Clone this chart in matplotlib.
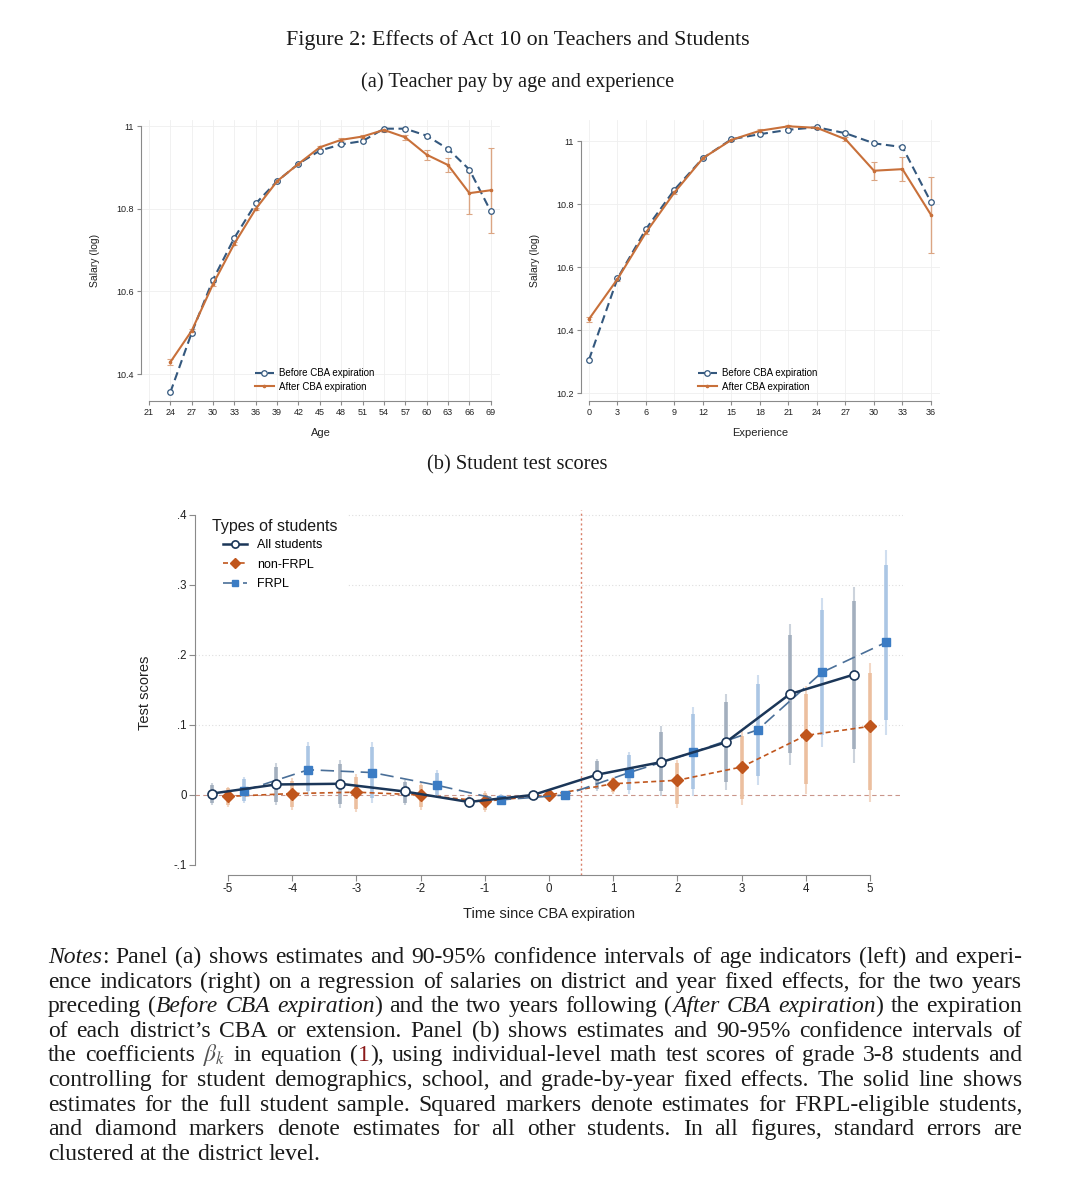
import matplotlib
matplotlib.use("Agg")
import matplotlib.pyplot as plt
from matplotlib.ticker import FuncFormatter
from matplotlib.patches import Rectangle
import numpy as np

plt.rcParams["font.family"] = ["Liberation Sans", "DejaVu Sans"]
plt.rcParams["mathtext.fontset"] = "stix"
plt.rcParams["axes.unicode_minus"] = False

W, H = 1076, 1200

#* Panel (a) left: salary by age
ages = [24, 27, 30, 33, 36, 39, 42, 45, 48, 51, 54, 57, 60, 63, 66, 69]
age_before = [10.356, 10.500, 10.629, 10.730, 10.813, 10.867, 10.909, 10.941,
              10.956, 10.964, 10.994, 10.994, 10.977, 10.945, 10.895, 10.794]
age_after = [10.429, 10.505, 10.618, 10.716, 10.800, 10.867, 10.909, 10.949,
             10.967, 10.975, 10.991, 10.973, 10.931, 10.906, 10.838, 10.845]
age_after_ci = [0.008, 0.005, 0.004, 0.004, 0.003, 0.003, 0.003, 0.004,
                0.004, 0.004, 0.004, 0.006, 0.012, 0.018, 0.050, 0.103]
age_ticks = list(range(21, 70, 3))
age_yticks = [10.4, 10.6, 10.8, 11.0]

#* Panel (a) right: salary by experience
exper = [0, 3, 6, 9, 12, 15, 18, 21, 24, 27, 30, 33, 36]
exp_before = [10.306, 10.564, 10.721, 10.846, 10.946, 11.006, 11.022, 11.036,
              11.044, 11.025, 10.993, 10.981, 10.806]
exp_after = [10.435, 10.562, 10.710, 10.837, 10.946, 11.004, 11.033, 11.047,
             11.042, 11.006, 10.906, 10.911, 10.766]
exp_after_ci = [0.008, 0.005, 0.004, 0.004, 0.004, 0.004, 0.004, 0.004,
                0.004, 0.006, 0.029, 0.038, 0.121]
exp_ticks = list(range(0, 37, 3))
exp_yticks = [10.2, 10.4, 10.6, 10.8, 11.0]

#* Panel (b): test scores (95% CI bounds)
all_x = [-5.25, -4.25, -3.25, -2.25, -1.25, -0.25, 0.75, 1.75, 2.75, 3.75, 4.75]
all_y = [0.002, 0.015, 0.016, 0.005, -0.010, 0.000, 0.029, 0.047, 0.075, 0.144, 0.172]
all_lo = [-0.014, -0.014, -0.019, -0.014, -0.019, 0.0, 0.005, -0.002, 0.007, 0.043, 0.045]
all_hi = [0.017, 0.045, 0.050, 0.021, -0.002, 0.0, 0.052, 0.098, 0.144, 0.244, 0.297]

non_x = [-5, -4, -3, -2, -1, 0, 1, 2, 3, 4, 5]
non_y = [-0.002, 0.002, 0.004, 0.000, -0.009, 0.000, 0.016, 0.021, 0.040, 0.085, 0.098]
non_lo = [-0.017, -0.021, -0.024, -0.021, -0.024, 0.0, 0.002, -0.019, -0.014, 0.002, -0.010]
non_hi = [0.012, 0.024, 0.030, 0.017, 0.005, 0.0, 0.026, 0.050, 0.093, 0.155, 0.188]

frpl_x = [-4.75, -3.75, -2.75, -1.75, -0.75, 0.25, 1.25, 2.25, 3.25, 4.25, 5.25]
frpl_y = [0.006, 0.036, 0.032, 0.014, -0.007, 0.000, 0.032, 0.061, 0.093, 0.175, 0.218]
frpl_lo = [-0.012, 0.000, -0.012, -0.002, -0.014, 0.0, 0.002, -0.002, 0.014, 0.069, 0.086]
frpl_hi = [0.026, 0.076, 0.076, 0.035, 0.002, 0.0, 0.062, 0.126, 0.171, 0.281, 0.350]

time_ticks = [-5, -4, -3, -2, -1, 0, 1, 2, 3, 4, 5]
score_ticks = [-0.1, 0, 0.1, 0.2, 0.3, 0.4]

BLUE = "#34587e"
ORANGE = "#c8703a"
NAVY = "#1b3658"
RUST = "#c0561d"
SKY = "#3b7cc4"
AXC = "#8a8a8a"


def px_axes(x0, y0, x1, y1):
    # pixel box (top-left origin) -> figure axes
    return fig.add_axes([x0 / W, 1 - y1 / H, (x1 - x0) / W, (y1 - y0) / H])


def stata_axes(ax, xt, yt, fs, tl):
    for s in ["top", "right"]:
        ax.spines[s].set_visible(False)
    for s in ["left", "bottom"]:
        ax.spines[s].set_color(AXC)
        ax.spines[s].set_linewidth(0.8)
    ax.spines["bottom"].set_bounds(xt[0], xt[-1])
    ax.spines["left"].set_bounds(yt[0], yt[-1])
    ax.set_xticks(xt)
    ax.set_yticks(yt)
    ax.tick_params(direction="out", length=tl, width=0.8, color=AXC,
                   labelsize=fs, labelcolor="#222222", pad=2)


def salary_panel(ax, x, before, after, ci, xt, yt, xlab, xlim, ylim, legx):
    ax.set_xlim(*xlim)
    ax.set_ylim(*ylim)
    for v in xt:
        ax.axvline(v, color="#efefef", lw=0.6, zorder=0)
    for v in yt:
        ax.axhline(v, color="#efefef", lw=0.6, zorder=0)
    ax.errorbar(x, after, yerr=ci, fmt="none", ecolor="#dba583", elinewidth=1,
                capsize=2.5, capthick=0.8, zorder=2)
    ax.plot(x, before, color=BLUE, ls=(0, (4, 2.2)), lw=1.5, marker="o", ms=4,
            mfc="white", mec=BLUE, mew=0.9, label="Before CBA expiration", zorder=3)
    ax.plot(x, after, color=ORANGE, lw=1.5, marker="o", ms=1.6, mec=ORANGE,
            label="After CBA expiration", zorder=4)
    stata_axes(ax, xt, yt, 6.5, 3)
    ax.yaxis.set_major_formatter(FuncFormatter(lambda v, p: "%g" % v))
    ax.set_xlabel(xlab, fontsize=8, color="#222222")
    ax.set_ylabel("Salary (log)", fontsize=7.5, color="#222222")
    ax.xaxis.set_label_coords(0.5, -0.095)
    ax.yaxis.set_label_coords(-0.115, 0.5)
    ax.legend(loc="upper left", bbox_to_anchor=(legx, 0.117), frameon=False,
              fontsize=7, handlelength=1.9, handletextpad=0.6, labelspacing=0.35,
              borderpad=0, borderaxespad=0)


fig = plt.figure(figsize=(W / 100, H / 100), dpi=100)

ax1 = px_axes(141, 120, 500, 401)
salary_panel(ax1, ages, age_before, age_after, age_after_ci, age_ticks, age_yticks,
             "Age", (19.88, 70.3), (10.335, 11.015), 0.318)
ax2 = px_axes(581, 120, 940, 401)
salary_panel(ax2, exper, exp_before, exp_after, exp_after_ci, exp_ticks, exp_yticks,
             "Experience", (-0.84, 36.95), (10.175, 11.067), 0.326)

#* Panel (b)
ax3 = px_axes(195, 510, 903, 875)
ax3.set_xlim(-5.514, 5.514)
ax3.set_ylim(-0.1143, 0.407)
for v in score_ticks[2:]:
    ax3.axhline(v, color="#dedede", lw=0.8, ls=(0, (1, 2)), zorder=0)
ax3.axhline(0, color="#c9958a", lw=0.8, ls=(0, (4, 3)), zorder=1)
ax3.axvline(0.5, color="#d9806a", lw=1, ls=(0, (1.5, 2)), zorder=1)

z = 1.645 / 1.96
series = [
    (all_x, all_y, all_lo, all_hi, "#ccd3dc", "#a3afbe"),
    (non_x, non_y, non_lo, non_hi, "#f3d8c6", "#ecbf9f"),
    (frpl_x, frpl_y, frpl_lo, frpl_hi, "#d0deef", "#abc6e4"),
]
for x, y, lo, hi, c95, c90 in series:
    y = np.array(y)
    lo = np.array(lo)
    hi = np.array(hi)
    keep = hi > lo
    xx = np.array(x)[keep]
    ax3.vlines(xx, lo[keep], hi[keep], color=c95, lw=1.5, zorder=2)
    ax3.vlines(xx, y[keep] - z * (y[keep] - lo[keep]), y[keep] + z * (hi[keep] - y[keep]),
               color=c90, lw=2.6, zorder=2)

ax3.plot(non_x, non_y, color=RUST, ls=(0, (3, 2)), lw=1.2, marker="D", ms=6.5,
         mec=RUST, mfc=RUST, label="non-FRPL", zorder=3)
ax3.plot(frpl_x, frpl_y, color="#4a6f98", ls=(0, (8, 4)), lw=1.2, marker="s", ms=6,
         mec=SKY, mfc=SKY, label="FRPL", zorder=4)
ax3.plot(all_x, all_y, color=NAVY, lw=1.8, marker="o", ms=6.5, mfc="white",
         mec=NAVY, mew=1.2, label="All students", zorder=5)

stata_axes(ax3, time_ticks, score_ticks, 8.3, 4)
ax3.yaxis.set_major_formatter(FuncFormatter(
    lambda v, p: "0" if abs(v) < 1e-9 else ("%g" % v).replace("0.", ".")))
ax3.set_xlabel("Time since CBA expiration", fontsize=10.5, color="#222222")
ax3.set_ylabel("Test scores", fontsize=10.5, color="#222222")
ax3.xaxis.set_label_coords(0.5, -0.088)
ax3.yaxis.set_label_coords(-0.061, 0.5)

# white box behind the legend hides the grid there
ax3.add_patch(Rectangle((0, 0.753), 0.215, 0.26, transform=ax3.transAxes,
                        facecolor="white", edgecolor="none", zorder=1, clip_on=False))
ax3.text((212 - 195) / 708, (875 - 526) / 365, "Types of students", transform=ax3.transAxes,
         fontsize=11.5, color="#1a1a1a", ha="left", va="center", zorder=11)
h, l = ax3.get_legend_handles_labels()
order = [2, 0, 1]
leg = ax3.legend([h[i] for i in order], [l[i] for i in order],
                 loc="upper left", bbox_to_anchor=((223 - 195) / 708, (875 - 539) / 365),
                 fontsize=9, frameon=False, handlelength=1.9, handletextpad=0.8,
                 labelspacing=0.6, borderpad=0, borderaxespad=0, markerscale=0.8)
leg.set_zorder(10)

#* Titles
SERIF = ["Liberation Serif", "DejaVu Serif"]
fig.text(518 / W, 1 - 40 / H, "Figure 2: Effects of Act 10 on Teachers and Students",
         ha="center", va="center", fontsize=15.8, family=SERIF, color="#1a1a1a")
fig.text(518 / W, 1 - 82 / H, "(a) Teacher pay by age and experience",
         ha="center", va="center", fontsize=14.7, family=SERIF, color="#1a1a1a")
fig.text(517 / W, 1 - 465 / H, "(b) Student test scores",
         ha="center", va="center", fontsize=14.7, family=SERIF, color="#1a1a1a")

#* Notes, justified word by word
notes = [
    [("Notes", "i"), (": Panel (a) shows estimates and 90-95% confidence intervals of age indicators (left) and experi-", "n")],
    [("ence indicators (right) on a regression of salaries on district and year fixed effects, for the two years", "n")],
    [("preceding (", "n"), ("Before CBA expiration", "i"), (") and the two years following (", "n"),
     ("After CBA expiration", "i"), (") the expiration", "n")],
    [("of each district\u2019s CBA or extension.  Panel (b) shows estimates and 90-95% confidence intervals of", "n")],
    [("the coefficients ", "n"), (r"$\beta_k$", "m"), (" in equation (", "n"), ("1", "r"),
     ("), using individual-level math test scores of grade 3-8 students and", "n")],
    [("controlling for student demographics, school, and grade-by-year fixed effects. The solid line shows", "n")],
    [("estimates for the full student sample. Squared markers denote estimates for FRPL-eligible students,", "n")],
    [("and diamond markers denote estimates for all other students.  In all figures, standard errors are", "n")],
    [("clustered at the district level.", "n")],
]
NFS = 17.0
x_left, x_right = 48, 1022
y0, dy = 963, 24.6
renderer = fig.canvas.get_renderer()


def mk(txt, st, y):
    return fig.text(0, 1 - y / H, txt, fontsize=NFS, family=SERIF, ha="left", va="baseline",
                    style="italic" if st == "i" else "normal",
                    color="#8b1a1a" if st == "r" else ("#555555" if st == "m" else "#1a1a1a"))


sp_a = mk("a a", "n", 0)
sp_b = mk("aa", "n", 0)
space = sp_a.get_window_extent(renderer).width - sp_b.get_window_extent(renderer).width
sp_a.remove()
sp_b.remove()

for i, segs in enumerate(notes):
    y = round(y0 + i * dy)
    words = [[]]
    for txt, st in segs:
        parts = txt.split(" ")
        for j, p in enumerate(parts):
            if j > 0:
                words.append([])
            if p:
                words[-1].append((p, st))
    words = [w for w in words if w]
    placed = []
    widths = []
    for w in words:
        objs = []
        off = 0
        for p, st in w:
            t = mk(p, st, y)
            objs.append((t, off))
            off += t.get_window_extent(renderer).width
        placed.append(objs)
        widths.append(off)
    if i < len(notes) - 1:
        gap = (x_right - x_left - sum(widths)) / (len(words) - 1)
    else:
        gap = space
    x = x_left
    for objs, wd in zip(placed, widths):
        for t, off in objs:
            t.set_x((x + off) / W)
        x += wd + gap

fig.savefig("out.png", dpi=100)
